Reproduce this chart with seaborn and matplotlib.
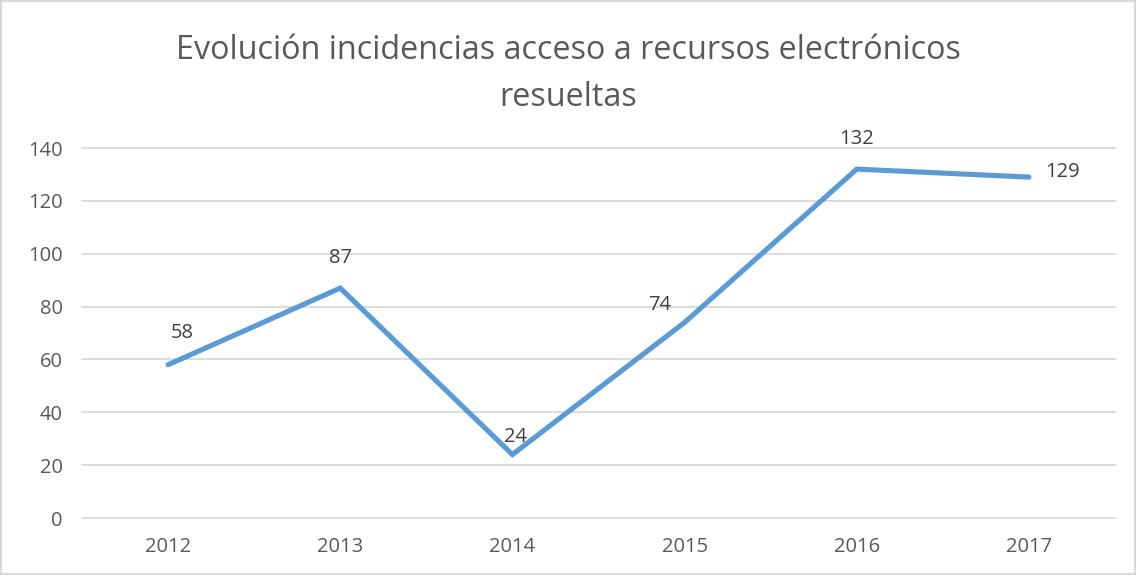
import matplotlib
matplotlib.use("Agg")
import matplotlib.pyplot as plt
import seaborn as sns
import pandas as pd

years = ["2012", "2013", "2014", "2015", "2016", "2017"]
values = [58, 87, 24, 74, 132, 129]
yticks = [0, 20, 40, 60, 80, 100, 120, 140]
title = "Evolución incidencias acceso a recursos electrónicos\nresueltas"

# label offsets (points) mimicking the reference placement
label_offsets = [(10, 23), (0, 21.5), (2, 12.5), (-18, 12.5), (0, 21.5), (24.5, 4)]

sns.set_theme(style="white")
plt.rcParams['font.family'] = ['Open Sans', 'DejaVu Sans']

fig = plt.figure(figsize=(11.37, 5.75), dpi=100)
ax = fig.add_axes([82/1137, 57/575, (1115-82)/1137, (518-148)/575])

df = pd.DataFrame({"x": range(len(years)), "y": values})
sns.lineplot(data=df, x="x", y="y", ax=ax, color="#5B9BD5", linewidth=3.7,
             solid_capstyle="round", solid_joinstyle="miter")

ax.set_xlim(-0.5, len(years) - 0.5)
ax.set_ylim(0, 140)
ax.set_yticks(yticks)
ax.set_xticks(range(len(years)))
ax.set_xticklabels(years)
ax.set_xlabel("")
ax.set_ylabel("")
ax.tick_params(axis="both", length=0, labelsize=14.5, labelcolor="#595959")
ax.tick_params(axis="x", pad=14)
ax.tick_params(axis="y", pad=14)
ax.yaxis.grid(True, color="#D9D9D9", linewidth=1.3)
ax.set_axisbelow(True)
for gl in ax.get_ygridlines():
    gl.set_clip_on(False)
for s in ax.spines.values():
    s.set_visible(False)

for i, (v, off) in enumerate(zip(values, label_offsets)):
    ax.annotate(str(v), (i, v), xytext=off, textcoords="offset points",
                ha="center", va="center", fontsize=14.5, color="#404040")

fig.text(0.5, 1 - 74/575, title, ha="center", va="center", fontsize=23.3,
         color="#595959", linespacing=1.55)

fig.patches.append(plt.Rectangle((0.001, 0.002), 0.997, 0.996, transform=fig.transFigure,
                                 fill=False, edgecolor="#D9D9D9", linewidth=1.5))

fig.savefig("out.png", dpi=100)
